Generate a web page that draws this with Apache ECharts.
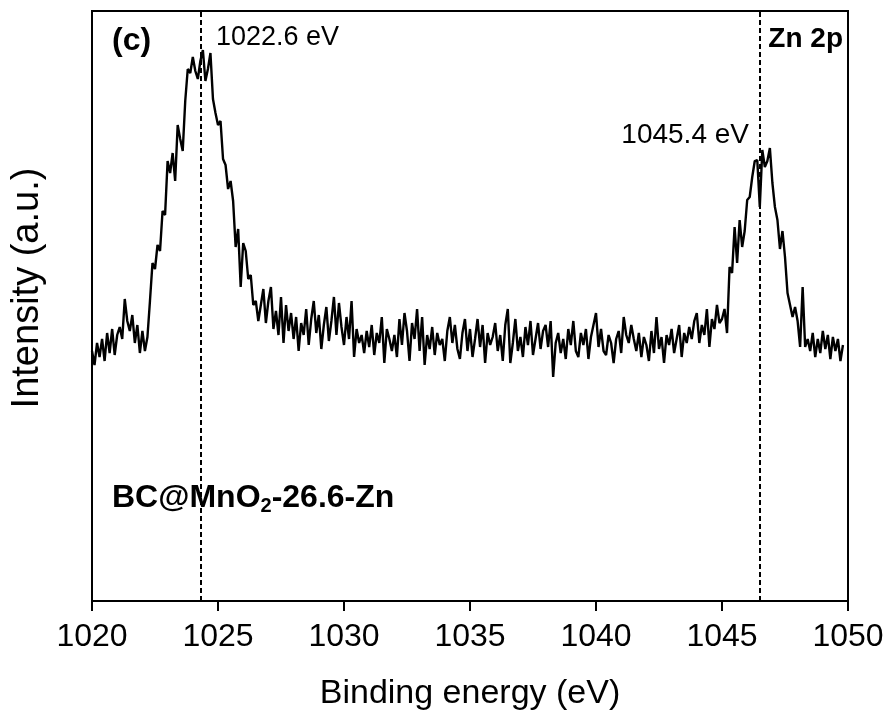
<!DOCTYPE html>
<html>
<head>
<meta charset="utf-8">
<script src="https://cdn.jsdelivr.net/npm/echarts@6/dist/echarts.min.js"></script>
<style>
html,body{margin:0;padding:0;background:#fff;}
#chart{width:895px;height:722px;}
</style>
</head>
<body>
<div id="chart"></div>
<script>
// Binding energy grid of the scan (eV)
const energyStart = 1020.0;
const energyStep = 0.1;
// Intensity (a.u.), one value per 0.1 eV
const seg1020 = [
  250, 236, 258, 244, 262, 240, 268, 248, 272, 246,
  266, 274, 262, 302, 280, 270, 286, 258, 276, 248,
  270, 250, 264, 300, 338, 332, 356, 350, 390, 386,
  440, 428, 448, 420, 476, 462, 450, 500, 532, 528,
  544, 530, 522, 540, 551, 520, 532, 548, 502, 488
];
const seg1025 = [
  476, 480, 442, 436, 412, 420, 400, 354, 372, 314,
  358, 350, 322, 326, 296, 300, 280, 296, 312, 278,
  300, 314, 272, 290, 266, 304, 258, 296, 270, 288,
  262, 284, 250, 278, 266, 292, 256, 282, 300, 268,
  286, 252, 276, 294, 260, 280, 304, 266, 298, 274
];
const seg1030 = [
  256, 284, 262, 300, 244, 272, 258, 266, 248, 270,
  254, 276, 246, 268, 258, 284, 238, 272, 262, 250,
  266, 244, 282, 256, 288, 270, 240, 278, 262, 292,
  250, 284, 236, 266, 252, 274, 246, 268, 256, 262,
  240, 270, 284, 258, 276, 252, 242, 268, 282, 250
];
const seg1035 = [
  272, 244, 262, 282, 254, 276, 238, 268, 256, 264,
  278, 250, 266, 240, 276, 292, 238, 258, 282, 250,
  264, 244, 274, 256, 280, 246, 262, 278, 252, 270,
  276, 254, 280, 224, 258, 268, 248, 262, 242, 272,
  256, 280, 250, 244, 268, 256, 272, 242, 264, 276
];
const seg1040 = [
  288, 254, 272, 250, 246, 266, 258, 238, 262, 270,
  248, 284, 266, 258, 276, 262, 250, 268, 244, 264,
  256, 240, 270, 248, 284, 252, 264, 238, 266, 256,
  272, 248, 262, 276, 244, 268, 258, 274, 262, 280,
  288, 258, 276, 266, 292, 254, 282, 272, 296, 278
];
const seg1045 = [
  282, 292, 268, 334, 328, 374, 338, 381, 354, 370,
  401, 404, 424, 440, 441, 394, 451, 434, 440, 453,
  418, 394, 381, 352, 370, 344, 308, 296, 284, 294,
  280, 254, 314, 254, 262, 250, 268, 244, 262, 248,
  270, 252, 266, 242, 264, 250, 262, 240, 256
];
// Peak marker positions (dashed lines) in eV
const peakMarkers = [1024.3, 1046.5];
// Axis ticks
const xTicks = [1020, 1025, 1030, 1035, 1040, 1045, 1050];

const intensity = [].concat(seg1020, seg1025, seg1030, seg1035, seg1040, seg1045);
const seriesData = intensity.map((v, i) => [+(energyStart + i * energyStep).toFixed(1), v]);

const FONT = 'Liberation Sans';
const chart = echarts.init(document.getElementById('chart'), null, {renderer: 'canvas'});
chart.setOption({
  animation: false,
  backgroundColor: '#ffffff',
  grid: {left: 92, right: 47, top: 11, bottom: 121, show: true, borderColor: '#000', borderWidth: 2, containLabel: false},
  xAxis: {
    type: 'value', min: xTicks[0], max: xTicks[xTicks.length - 1], interval: 5,
    axisLine: {show: true, lineStyle: {color: '#000', width: 2}},
    axisTick: {show: true, inside: false, length: 10, lineStyle: {color: '#000', width: 2}},
    splitLine: {show: false},
    axisLabel: {color: '#000', fontSize: 32, fontFamily: FONT, margin: 20, formatter: v => String(v)},
    name: 'Binding energy (eV)', nameLocation: 'middle', nameGap: 76,
    nameTextStyle: {color: '#000', fontSize: 34, fontFamily: FONT}
  },
  yAxis: {
    type: 'value', min: 0, max: 590,
    axisLine: {show: true, lineStyle: {color: '#000', width: 2}},
    axisTick: {show: false}, axisLabel: {show: false}, splitLine: {show: false}
  },
  series: [{
    type: 'line', data: seriesData, showSymbol: false, symbol: 'none',
    lineStyle: {color: '#000', width: 2.4}, silent: true,
    markLine: {
      symbol: 'none', silent: true, label: {show: false},
      lineStyle: {color: '#000', width: 2, type: [5, 3]},
      emphasis: {disabled: true},
      data: peakMarkers.map(x => ({xAxis: x}))
    }
  }],
  graphic: [
    {type: 'text', x: 28, y: 288, rotation: Math.PI / 2,
      style: {text: 'Intensity (a.u.)', fontSize: 38, fontFamily: FONT, fill: '#000', align: 'center', verticalAlign: 'middle'}},
    {type: 'text', x: 112, y: 41, style: {text: '(c)', fontSize: 32, fontWeight: 'bold', fontFamily: FONT, fill: '#000', align: 'left', verticalAlign: 'middle'}},
    {type: 'text', x: 216, y: 38, style: {text: '1022.6 eV', fontSize: 27, fontFamily: FONT, fill: '#000', align: 'left', verticalAlign: 'middle'}},
    {type: 'text', x: 843, y: 39, style: {text: 'Zn 2p', fontSize: 28, fontWeight: 'bold', fontFamily: FONT, fill: '#000', align: 'right', verticalAlign: 'middle'}},
    {type: 'text', x: 749, y: 135, style: {text: '1045.4 eV', fontSize: 28, fontFamily: FONT, fill: '#000', align: 'right', verticalAlign: 'middle'}},
    {type: 'text', x: 112, y: 498, style: {
      text: '{b|BC@MnO}{s|2}{b|-26.6-Zn}', align: 'left', verticalAlign: 'middle',
      rich: {
        b: {fontSize: 32, fontWeight: 'bold', fontFamily: FONT, fill: '#000', color: '#000'},
        s: {fontSize: 20, fontWeight: 'bold', fontFamily: FONT, fill: '#000', color: '#000', padding: [17, 0, 0, 0], verticalAlign: 'bottom'}
      }
    }}
  ]
});
</script>
</body>
</html>
